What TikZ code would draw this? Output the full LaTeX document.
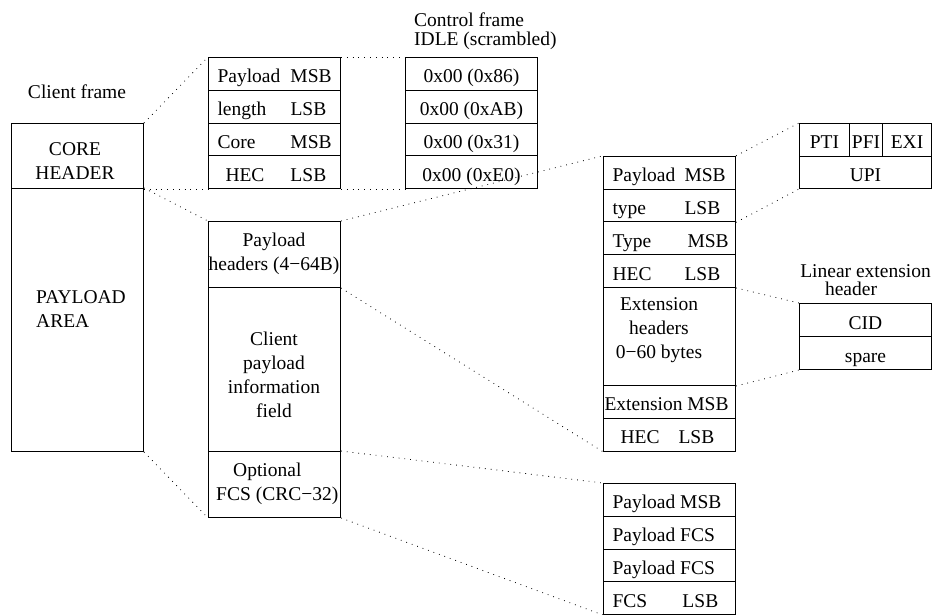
\documentclass[tikz,border=0pt]{standalone}
\usepackage{fontspec}
\setmainfont{Liberation Serif}
\newcommand\tcol[4]{\makebox[132pt][l]{\hspace*{#1pt}\makebox[\dimexpr#2pt-#1pt\relax][l]{#3}#4}}
\begin{document}
\begin{tikzpicture}[x=1pt,y=-1pt,
  font=\fontsize{19.5}{24}\selectfont,
  box/.style={draw, line width=1pt, inner sep=0pt, anchor=north west},
  cell/.style={box, minimum width=132pt, minimum height=32.75pt, text height=21pt, text depth=3pt},
  big/.style={box, minimum width=132pt},
  lbl/.style={inner sep=0pt},
  dots/.style={line width=0.8pt, dash pattern=on 0.8pt off 5pt}]
\useasboundingbox (0,0) rectangle (936,614);

% client frame
\node[big, minimum height=65pt] (ch) at (11,123) {};
\node[big, minimum height=263pt] (pa) at (11,188) {};
\node[lbl, anchor=base] (clbl) at (77,98) {Client frame};
\node[lbl, align=center] (chtxt) at (75,161) {CORE\\HEADER};
\node[lbl, align=left, anchor=west] (patxt) at (36,309) {PAYLOAD\\AREA};

% core header
\node[cell] (c1) at (208,57) {\tcol{9}{82}{Payload}{MSB}};
\node[cell] (c2) at (208,89.75) {\tcol{9}{82}{length}{LSB}};
\node[cell] (c3) at (208,122.5) {\tcol{9}{82}{Core}{MSB}};
\node[cell] (c4) at (208,155.25) {\tcol{17}{82}{HEC}{LSB}};

% idle
\node[lbl, anchor=base west] (ctl1) at (414,26) {Control frame};
\node[lbl, anchor=base west] (ctl2) at (414,45) {IDLE (scrambled)};
\node[cell] (i1) at (405,57) {0x00 (0x86)};
\node[cell] (i2) at (405,89.75) {0x00 (0xAB)};
\node[cell] (i3) at (405,122.5) {0x00 (0x31)};
\node[cell] (i4) at (405,155.25) {0x00 (0xE0)};

% payload area
\node[big, minimum height=66pt] (ph) at (208,221) {};
\node[big, minimum height=164pt] (cp) at (208,287) {};
\node[big, minimum height=66pt] (op) at (208,451) {};
\node[lbl, align=center] (phtxt) at (274,254) {Payload\\headers (4−64B)};
\node[lbl, align=center] (cptxt) at (274,375) {Client\\payload\\information\\field};
\node[lbl, align=left, anchor=west] (optxt) at (216,484) {\hspace*{17pt}Optional\\FCS (CRC−32)};

% payload headers
\node[cell] (h1) at (603,155.8) {\tcol{9}{81}{Payload}{MSB}};
\node[cell] (h2) at (603,188.6) {\tcol{9}{81}{type}{LSB}};
\node[cell] (h3) at (603,221.4) {\tcol{9}{84}{Type}{MSB}};
\node[cell] (h4) at (603,254.2) {\tcol{9}{81}{HEC}{LSB}};
\node[big, minimum height=98pt] (ex) at (603,287) {};
\node[lbl, align=center] (extxt) at (659,330) {Extension\\headers\\0−60 bytes};
\node[cell] (em) at (603,385) {\tcol{1}{1}{}{Extension MSB}};
\node[cell] (hc) at (603,418) {\tcol{17}{75}{HEC}{LSB}};

% FCS
\node[cell] (f1) at (603,483) {\tcol{9}{9}{}{Payload MSB}};
\node[cell] (f2) at (603,515.75) {\tcol{9}{9}{}{Payload FCS}};
\node[cell] (f3) at (603,548.5) {\tcol{9}{9}{}{Payload FCS}};
\node[cell] (f4) at (603,581.25) {\tcol{9}{79}{FCS}{LSB}};

% type header
\node[cell, minimum width=50pt, minimum height=32.5pt] (pti) at (799,123) {PTI};
\node[cell, minimum width=33pt, minimum height=32.5pt] (pfi) at (849,123) {PFI};
\node[cell, minimum width=49pt, minimum height=32.5pt] (exi) at (882,123) {EXI};
\node[cell, minimum height=32.5pt] (upi) at (799,155.5) {UPI};

% linear extension header
\node[lbl, anchor=base] (le1) at (865.5,277) {Linear extension};
\node[lbl, anchor=base] (le2) at (851,295) {header};
\node[cell, minimum height=33pt] (cid) at (799,303) {CID};
\node[cell, minimum height=33pt] (spr) at (799,336) {spare};

% dotted connectors
\draw[dots] (ch.north east) -- (c1.north west);
\draw[dots] (ch.south east) -- (c4.south west);
\draw[dots] (c1.north east) -- (i1.north west);
\draw[dots] (c4.south east) -- (i4.south west);
\draw[dots] (pa.north east) -- (ph.north west);
\draw[dots] (pa.south east) -- (op.south west);
\draw[dots] (ph.north east) -- (h1.north west);
\draw[dots] (ph.south east) -- (hc.south west);
\draw[dots] (op.north east) -- (f1.north west);
\draw[dots] (op.south east) -- (f4.south west);
\draw[dots] (h1.north east) -- (pti.north west);
\draw[dots] (h2.south east) -- (upi.south west);
\draw[dots] (h4.south east) -- (cid.north west);
\draw[dots] (ex.south east) -- (spr.south west);
\end{tikzpicture}
\end{document}
